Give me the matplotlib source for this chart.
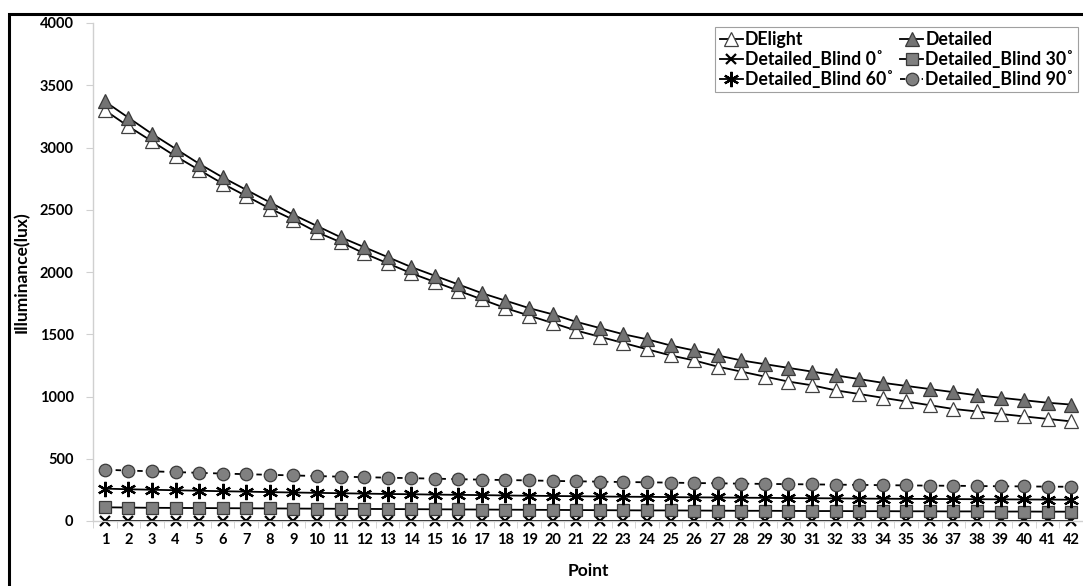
import numpy as np
import matplotlib as mpl
import matplotlib.pyplot as plt
from matplotlib.patches import Rectangle

mpl.rcParams['font.family'] = ['Lato', 'DejaVu Sans']
mpl.rcParams['font.weight'] = 'bold'

points = np.arange(1, 43)
delight = [3300, 3170, 3050, 2930, 2820, 2710, 2610, 2510, 2420, 2320,
           2240, 2150, 2070, 1990, 1920, 1850, 1780, 1710, 1650, 1590,
           1530, 1480, 1430, 1380, 1330, 1290, 1240, 1200, 1160, 1120,
           1090, 1050, 1020, 990, 960, 930, 900, 880, 860, 840, 820, 800]
detailed = [3370, 3240, 3110, 2990, 2870, 2760, 2660, 2560, 2460, 2370,
            2280, 2200, 2120, 2040, 1970, 1900, 1830, 1770, 1710, 1660,
            1600, 1550, 1500, 1460, 1410, 1370, 1330, 1290, 1260, 1230,
            1200, 1170, 1140, 1110, 1085, 1060, 1035, 1010, 990, 970, 950, 935]
blind0 = [3] * 42
blind30 = [110, 108, 106, 105, 104, 103, 102, 101, 100, 99,
           98, 97, 96, 95, 94, 93, 92, 91, 90, 89,
           88, 87, 86, 85, 85, 84, 83, 82, 82, 81,
           80, 80, 79, 79, 78, 78, 77, 77, 76, 76, 75, 75]
blind60 = [260, 255, 251, 247, 243, 239, 236, 232, 229, 226,
           223, 220, 217, 215, 212, 210, 208, 205, 203, 201,
           199, 197, 195, 194, 192, 190, 189, 187, 186, 184,
           183, 182, 180, 179, 178, 177, 176, 175, 174, 173, 172, 171]
blind90 = [412, 405, 399, 393, 387, 381, 376, 371, 366, 361,
           356, 352, 348, 344, 340, 336, 332, 329, 326, 322,
           319, 316, 313, 311, 308, 305, 303, 300, 298, 296,
           294, 292, 290, 288, 286, 284, 283, 281, 279, 278, 276, 275]

fig = plt.figure(figsize=(10.83, 5.86), dpi=100)
fig.patches.append(Rectangle((9 / 1083, -0.1), 1.2, 1.1 - 14 / 586, transform=fig.transFigure,
                             fill=False, edgecolor='black', lw=2.2))
ax = fig.add_axes([93 / 1083, 1 - 521 / 586, 1 - 93 / 1083, (521 - 23) / 586])

gray = '#808080'
edge = '#3a3a3a'
l1, = ax.plot(points, delight, color='black', lw=1.3, marker='^', ms=10, mfc='white', mec='#404040', mew=0.9, label='DElight')
l2, = ax.plot(points, detailed, color='black', lw=1.3, marker='^', ms=10, mfc='#737373', mec=edge, mew=0.9, label='Detailed')
l3, = ax.plot(points, blind0, color='black', lw=1.3, marker='x', ms=7, mec='black', mew=1.6, clip_on=False, label='Detailed_Blind 0˚')
l4, = ax.plot(points, blind30, color='black', lw=1.3, marker='s', ms=8.5, mfc=gray, mec=edge, mew=0.9, label='Detailed_Blind 30˚')
l5, = ax.plot(points, blind60, color='black', lw=1.3, marker=(6, 2, 0), ms=11, mec='black', mew=1.6, label='Detailed_Blind 60˚')
l6, = ax.plot(points, blind90, color='black', lw=1.3, ls=(0, (3, 3)), marker='o', ms=9, mfc=gray, mec=edge, mew=0.9, label='Detailed_Blind 90˚')

ax.set_xlim(0.5, 42.5)
ax.set_ylim(0, 4000)
ax.set_yticks(range(0, 4001, 500))
ax.set_xticks(points)
ax.set_xticks(np.arange(0.5, 43, 1), minor=True)
ax.tick_params(axis='x', which='major', length=0, pad=9, labelsize=10.5)
ax.tick_params(axis='x', which='minor', length=5, color='#d0d0d0', direction='out')
ax.tick_params(axis='y', length=5, color='#d0d0d0', pad=9, labelsize=10.5)
for s in ['top', 'right']:
    ax.spines[s].set_visible(False)
for s in ['left', 'bottom']:
    ax.spines[s].set_color('#d0d0d0')
    ax.spines[s].set_linewidth(1.0)
ax.set_xlabel('Point', fontsize=12.5, fontweight='bold', labelpad=11)
ax.set_ylabel('Illuminance(lux)', fontsize=12.5, fontweight='bold', labelpad=7)

handles = [l1, l3, l5, l2, l4, l6]
leg = ax.legend(handles=handles, labels=[h.get_label() for h in handles], ncol=2, loc='upper right',
                bbox_to_anchor=(1.004, 1.01), fontsize=12.8,
                handlelength=1.3, handletextpad=0.1, columnspacing=0.4, labelspacing=0.1,
                borderpad=0.25, fancybox=False, framealpha=1, edgecolor='#a0a0a0')
leg.get_frame().set_linewidth(0.8)

fig.savefig('out.png', dpi=100)
